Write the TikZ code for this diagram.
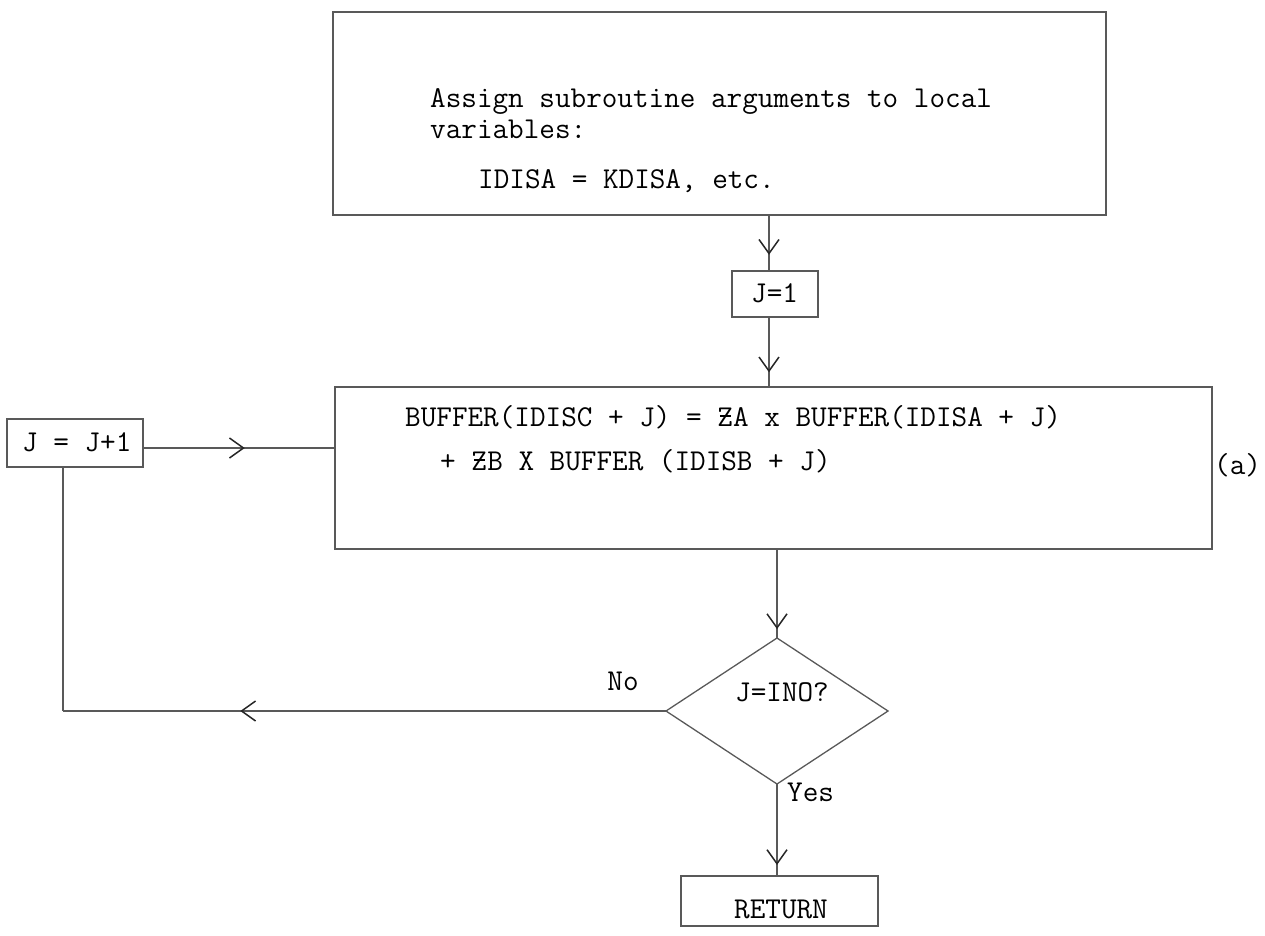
\documentclass[tikz,border=0pt]{standalone}
\usepackage{fontspec}
\usetikzlibrary{arrows.meta,decorations.markings,shapes.geometric}
\newcommand\zbar{\rlap{Z}\makebox[0.525em]{\rule[0.3em]{0.36em}{0.05em}}}
\begin{document}
\begin{tikzpicture}[x=1pt,y=-1pt,
  line/.style={line width=1.3pt, draw=black!65},
  box/.style={draw=black!65, line width=1.3pt, inner sep=0pt, outer sep=0pt, anchor=north west},
  txt/.style={font=\ttfamily\fontsize{30.3}{34}\selectfont, inner sep=0pt, anchor=base west, text=black},
  midarrow/.style={postaction={decorate}, decoration={markings, mark=at position #1 with {\arrow[black!85]{Straight Barb[length=14pt,width=20pt,line width=1.5pt]}}}}
]
\useasboundingbox (0,0) rectangle (1265,935);

% top box
\node[box, minimum width=773pt, minimum height=203pt] (top) at (333,12) {};
\node[txt] (t1) at (430,107) {Assign subroutine arguments to local};
\node[txt] (t2) at (430,138) {variables:};
\node[txt] (t3) at (478,188) {IDISA = KDISA, etc.};

% J=1
\node[box, minimum width=86pt, minimum height=46pt] (j1) at (732,271) {};
\node[txt] (j1t) at (751,302) {J=1};

% big box
\node[box, minimum width=877pt, minimum height=162pt] (big) at (335,387) {};
\node[txt] (b1) at (405,426) {BUFFER(IDISC + J) = \zbar A x BUFFER(IDISA + J)};
\node[txt] (b2) at (440,470) {+ \zbar B X BUFFER (IDISB + J)};
\node[txt] (lbla) at (1214,474) {(a)};

% J = J+1
\node[box, minimum width=136pt, minimum height=48pt] (jinc) at (7,419) {};
\node[txt] (jinct) at (22,451) {J = J+1};

% decision
\node[draw=black!65, line width=1.3pt, diamond, minimum width=222pt, minimum height=146pt, inner sep=0pt, outer sep=0pt] (dec) at (777,711) {};
\node[txt, anchor=base] (dect) at (782,701) {J=INO?};
\node[txt, anchor=base] (no) at (623,690) {No};
\node[txt] (yes) at (787,801) {Yes};

% RETURN
\node[box, minimum width=197pt, minimum height=50pt] (ret) at (681,876) {};
\node[txt, anchor=base] (rett) at (781,918) {RETURN};

% connectors
\coordinate (ax) at (769,0);
\coordinate (corner) at (63,711);
\draw[line, midarrow=0.71] (top.south -| ax) -- (j1.north -| ax);
\draw[line, midarrow=0.79] (j1.south -| ax) -- (big.north -| ax);
\draw[line, midarrow=0.53] ([yshift=-5pt]jinc.east) -- ([yshift=-5pt]jinc.east -| big.west);
\draw[line, midarrow=0.9] (big.south -| dec.north) -- (dec.north);
\draw[line, midarrow=0.88] (dec.south) -- (ret.north -| dec.south);
\draw[line, midarrow=0.706] (dec.west) -- (corner);
\draw[line] (corner) -- (corner |- jinc.south);
\end{tikzpicture}
\end{document}
